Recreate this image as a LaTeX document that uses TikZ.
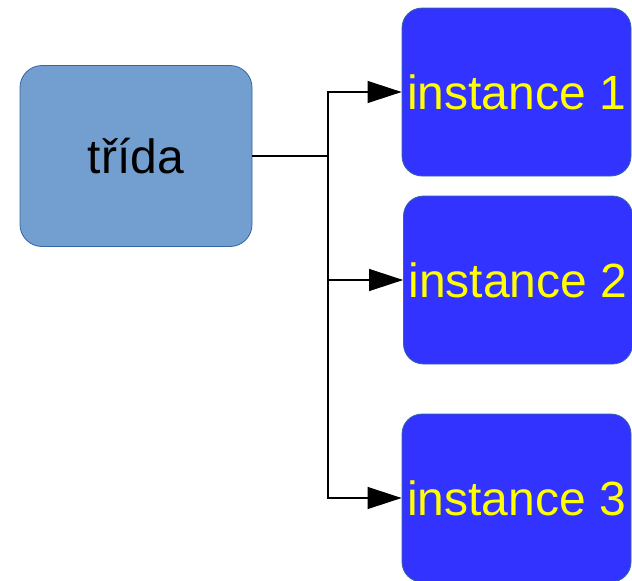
\documentclass[tikz,border=0pt]{standalone}
\usepackage{fontspec}
\setmainfont{Liberation Sans}
\usetikzlibrary{arrows.meta}
\definecolor{classfill}{HTML}{729FCF}
\definecolor{classdraw}{HTML}{3465A4}
\definecolor{instfill}{HTML}{3333FF}
\definecolor{insttext}{HTML}{FFFF00}
\begin{document}
\begin{tikzpicture}[x=1pt,y=-1pt,
  classbox/.style={draw=classdraw, fill=classfill, rounded corners=22pt, line width=0.8pt,
    minimum width=232pt, minimum height=181pt, inner sep=0pt,
    font=\fontsize{48}{56}\selectfont, text=black},
  instbox/.style={draw=classdraw, fill=instfill, rounded corners=20pt, line width=0.8pt,
    minimum width=229pt, minimum height=168pt, inner sep=0pt,
    font=\fontsize{48}{56}\selectfont, text=insttext},
  link/.style={draw=black, line width=1.1pt},
  arrowlink/.style={link, -{Triangle[length=34pt, width=22pt]}}]
\useasboundingbox (0,0) rectangle (632,581);
\node[classbox] (trida) at (136,156) {třída};
\node[instbox] (i1) at (516.5,92) {instance 1};
\node[instbox] (i2) at (518,280) {instance 2};
\node[instbox] (i3) at (516.5,498) {instance 3};
\coordinate (j) at (328,156);
\draw[link] (trida.east) -- (j);
\draw[arrowlink] (j) |- (i1.west);
\draw[arrowlink] (j) |- (i2.west);
\draw[arrowlink] (j) |- (i3.west);
\end{tikzpicture}
\end{document}
